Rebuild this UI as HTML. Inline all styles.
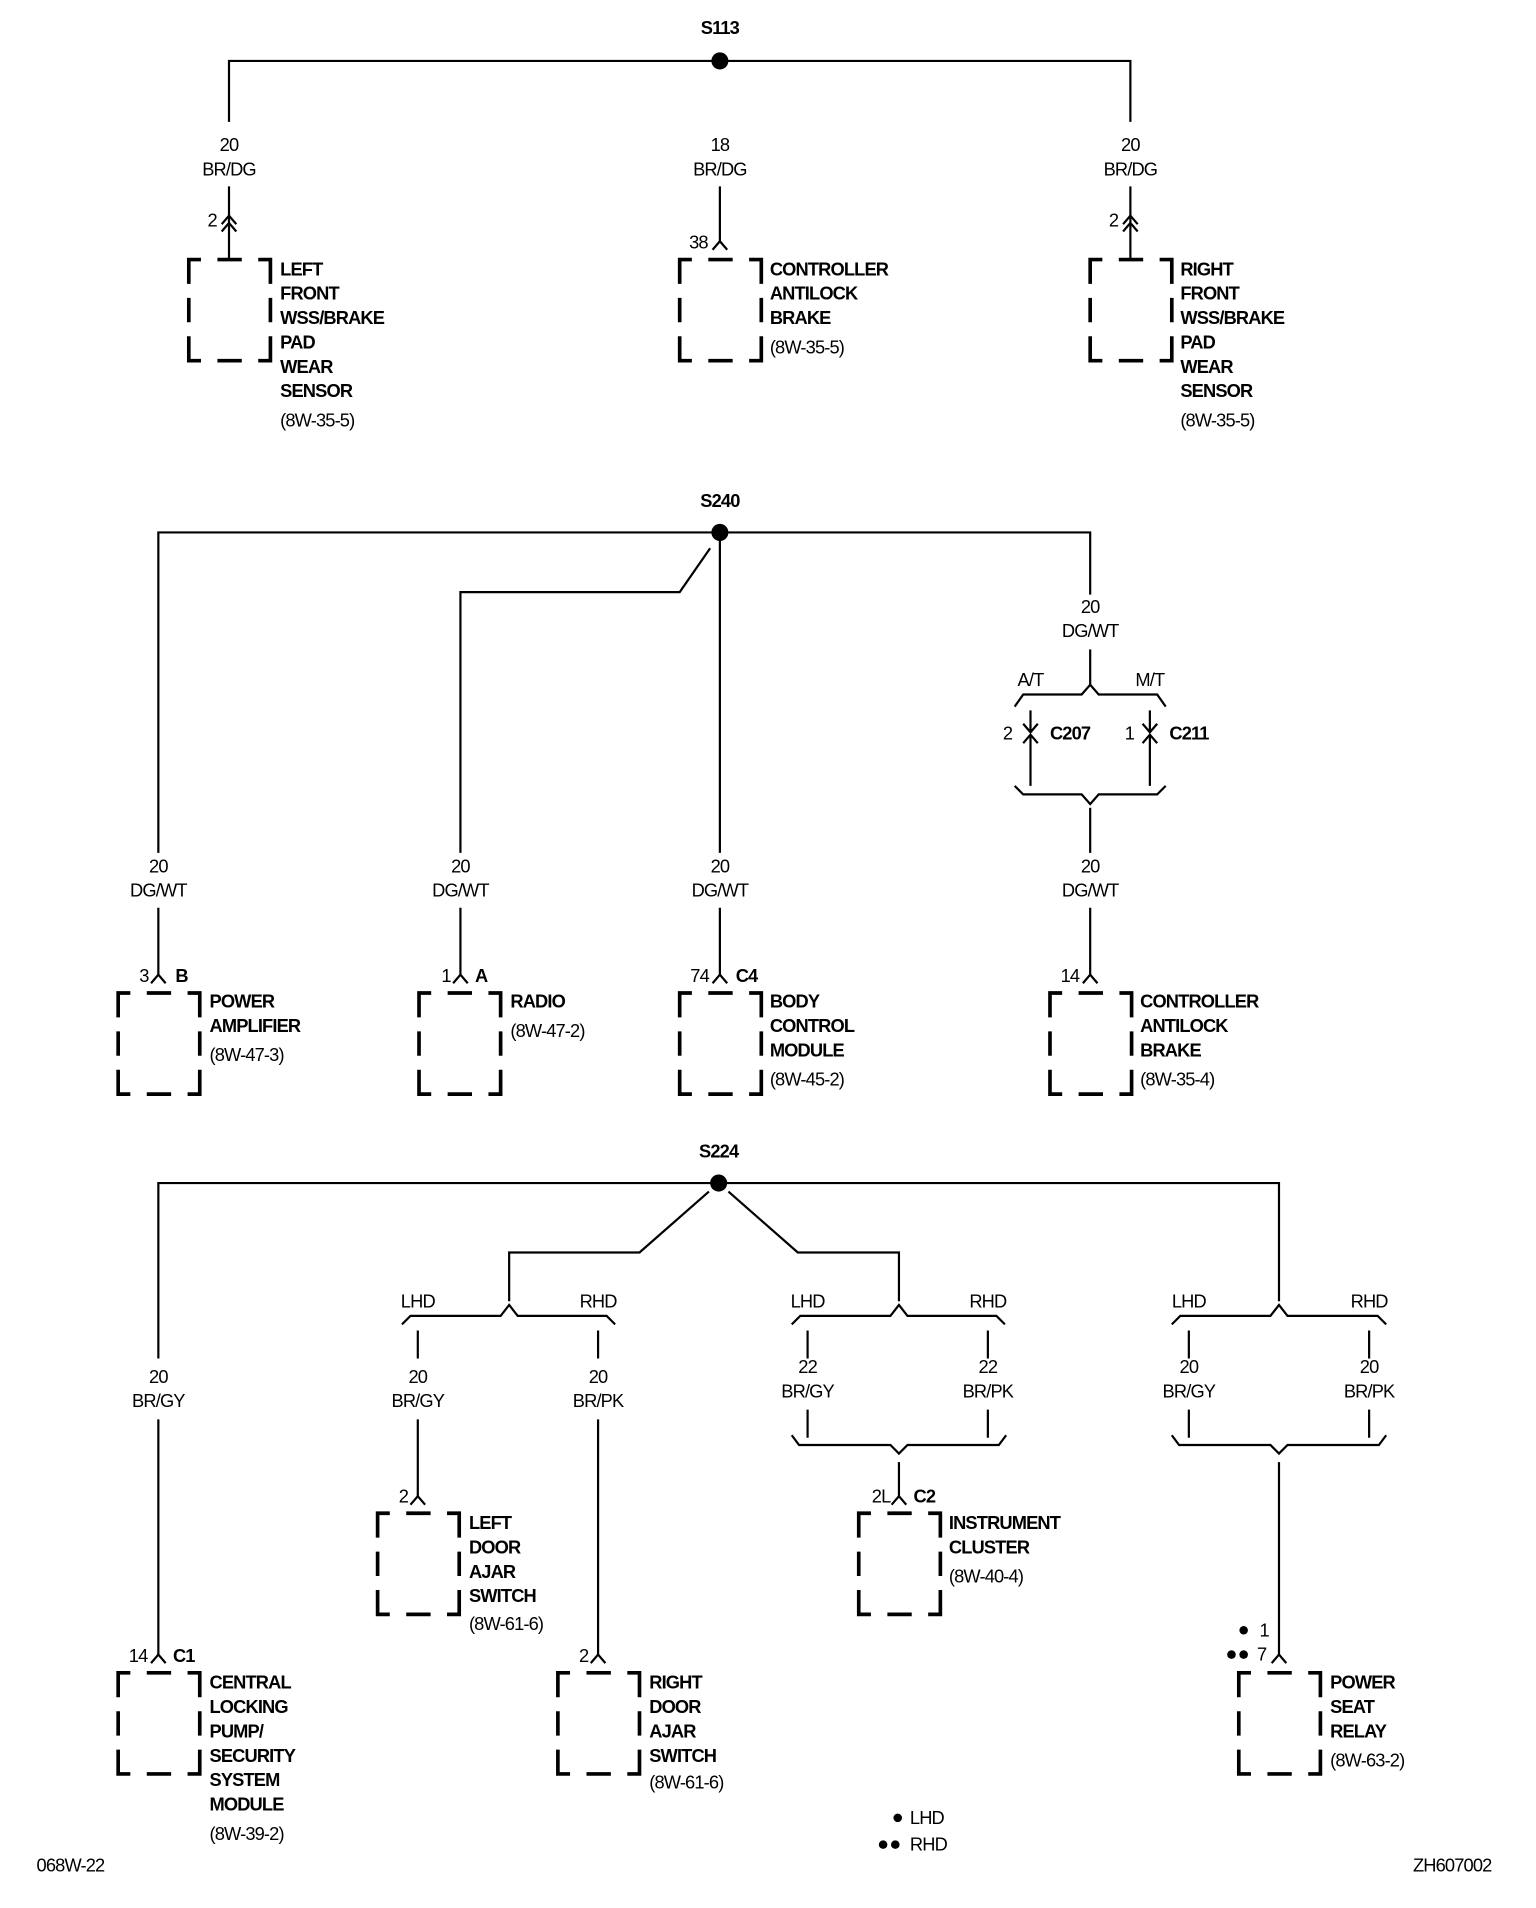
<!DOCTYPE html>
<html><head><meta charset="utf-8"><style>
html,body{margin:0;padding:0;background:#fff;}
svg{display:block;}
text{font-family:"Liberation Sans",sans-serif;font-size:15px;fill:#000;letter-spacing:-0.7px;}
.b{font-weight:bold;}
.c{text-anchor:middle;}
.e{text-anchor:end;}
</style></head><body>
<svg id="s" width="1536" height="1908" viewBox="0 0 1261 1566" preserveAspectRatio="none" xmlns="http://www.w3.org/2000/svg">
<g id="w" fill="none" stroke="#000" stroke-width="1.8">
<path d="M188 100V50H928V100"/>
<path d="M188 153V213M591 153V198M928 153V213"/>
<path d="M130 700V437H895V488"/>
<path d="M591 437V700"/>
<path d="M583 450L558 486H378V700"/>
<path d="M895 533V562"/>
<path d="M833 580L840 570H888L895 562L902 570H950L957 580"/>
<path d="M846 583V601M944 583V601M846 603V645M944 603V645"/>
<path d="M833 645L840 652H888L895 660L902 652H950L957 645"/>
<path d="M895 663V700"/>
<path d="M130 745V800M378 745V800M591 745V800M895 745V800"/>
<path d="M130 1115V971H1050V1068"/>
<path d="M582 978L525 1028H418V1068"/>
<path d="M598 978L655 1028H738V1068"/>
<path d="M330 1087L337 1080H411L418 1071L425 1080H498L505 1087"/>
<path d="M650 1087L657 1080H731L738 1071L745 1080H818L825 1087"/>
<path d="M962 1087L969 1080H1043L1050 1071L1057 1080H1131L1138 1087"/>
<path d="M343 1092V1115M491 1092V1115M663 1092V1115M811 1092V1115M976 1092V1115M1124 1092V1115"/>
<path d="M130 1165V1358M343 1165V1228M491 1165V1358"/>
<path d="M663 1157V1180M811 1157V1180M976 1157V1180M1124 1157V1180"/>
<path d="M650 1178L656 1186H731L738 1193L745 1186H820L826 1178"/>
<path d="M962 1178L968 1186H1043L1050 1193L1057 1186H1132L1138 1178"/>
<path d="M738 1200V1228M1050 1200V1358"/>
</g>
<g fill="#000">
<circle cx="591" cy="50" r="7"/><circle cx="591" cy="437" r="7"/><circle cx="590" cy="971" r="7"/>
<circle cx="1021" cy="1338" r="3.5"/><circle cx="1011" cy="1358" r="3.5"/><circle cx="1021" cy="1358" r="3.5"/>
<circle cx="737" cy="1492" r="3.5"/><circle cx="725" cy="1514" r="3.5"/><circle cx="735" cy="1514" r="3.5"/>
</g>
<g id="bx" fill="none" stroke="#000" stroke-width="3"></g>
<g id="ch" fill="none" stroke="#000" stroke-width="1.8"></g>

<text class="b c" x="591" y="28">S113</text>
<text class="c" x="188" y="124">20</text><text class="c" x="188" y="144">BR/DG</text>
<text class="c" x="591" y="124">18</text><text class="c" x="591" y="144">BR/DG</text>
<text class="c" x="928" y="124">20</text><text class="c" x="928" y="144">BR/DG</text>
<text class="e" x="178" y="186">2</text><text class="e" x="581" y="204">38</text><text class="e" x="918" y="186">2</text>
<text class="b" x="230" y="226">LEFT</text><text class="b" x="230" y="246">FRONT</text><text class="b" x="230" y="266">WSS/BRAKE</text><text class="b" x="230" y="286">PAD</text><text class="b" x="230" y="306">WEAR</text><text class="b" x="230" y="326">SENSOR</text><text x="230" y="350">(8W-35-5)</text>
<text class="b" x="632" y="226">CONTROLLER</text><text class="b" x="632" y="246">ANTILOCK</text><text class="b" x="632" y="266">BRAKE</text><text x="632" y="290">(8W-35-5)</text>
<text class="b" x="969" y="226">RIGHT</text><text class="b" x="969" y="246">FRONT</text><text class="b" x="969" y="266">WSS/BRAKE</text><text class="b" x="969" y="286">PAD</text><text class="b" x="969" y="306">WEAR</text><text class="b" x="969" y="326">SENSOR</text><text x="969" y="350">(8W-35-5)</text>

<text class="b c" x="591" y="416">S240</text>
<text class="c" x="895" y="503">20</text><text class="c" x="895" y="523">DG/WT</text>
<text class="c" x="846" y="563">A/T</text><text class="c" x="944" y="563">M/T</text>
<text class="e" x="831" y="607">2</text><text class="b" x="862" y="607">C207</text>
<text class="e" x="931" y="607">1</text><text class="b" x="960" y="607">C211</text>
<text class="c" x="130" y="716">20</text><text class="c" x="130" y="736">DG/WT</text>
<text class="c" x="378" y="716">20</text><text class="c" x="378" y="736">DG/WT</text>
<text class="c" x="591" y="716">20</text><text class="c" x="591" y="736">DG/WT</text>
<text class="c" x="895" y="716">20</text><text class="c" x="895" y="736">DG/WT</text>
<text class="e" x="122" y="806">3</text><text class="b" x="144" y="806">B</text>
<text class="e" x="370" y="806">1</text><text class="b" x="390" y="806">A</text>
<text class="e" x="582" y="806">74</text><text class="b" x="604" y="806">C4</text>
<text class="e" x="886" y="806">14</text>
<text class="b" x="172" y="827">POWER</text><text class="b" x="172" y="847">AMPLIFIER</text><text x="172" y="871">(8W-47-3)</text>
<text class="b" x="419" y="827">RADIO</text><text x="419" y="851">(8W-47-2)</text>
<text class="b" x="632" y="827">BODY</text><text class="b" x="632" y="847">CONTROL</text><text class="b" x="632" y="867">MODULE</text><text x="632" y="891">(8W-45-2)</text>
<text class="b" x="936" y="827">CONTROLLER</text><text class="b" x="936" y="847">ANTILOCK</text><text class="b" x="936" y="867">BRAKE</text><text x="936" y="891">(8W-35-4)</text>

<text class="b c" x="590" y="950">S224</text>
<text class="c" x="343" y="1073">LHD</text><text class="c" x="491" y="1073">RHD</text>
<text class="c" x="663" y="1073">LHD</text><text class="c" x="811" y="1073">RHD</text>
<text class="c" x="976" y="1073">LHD</text><text class="c" x="1124" y="1073">RHD</text>
<text class="c" x="130" y="1135">20</text><text class="c" x="130" y="1155">BR/GY</text>
<text class="c" x="343" y="1135">20</text><text class="c" x="343" y="1155">BR/GY</text>
<text class="c" x="491" y="1135">20</text><text class="c" x="491" y="1155">BR/PK</text>
<text class="c" x="663" y="1127">22</text><text class="c" x="663" y="1147">BR/GY</text>
<text class="c" x="811" y="1127">22</text><text class="c" x="811" y="1147">BR/PK</text>
<text class="c" x="976" y="1127">20</text><text class="c" x="976" y="1147">BR/GY</text>
<text class="c" x="1124" y="1127">20</text><text class="c" x="1124" y="1147">BR/PK</text>
<text class="e" x="335" y="1233">2</text>
<text class="e" x="731" y="1233">2L</text><text class="b" x="750" y="1233">C2</text>
<text class="e" x="121" y="1364">14</text><text class="b" x="142" y="1364">C1</text>
<text class="e" x="483" y="1364">2</text>
<text x="1034" y="1343">1</text><text x="1032" y="1363">7</text>
<text class="b" x="385" y="1255">LEFT</text><text class="b" x="385" y="1275">DOOR</text><text class="b" x="385" y="1295">AJAR</text><text class="b" x="385" y="1315">SWITCH</text><text x="385" y="1338">(8W-61-6)</text>
<text class="b" x="779" y="1255">INSTRUMENT</text><text class="b" x="779" y="1275">CLUSTER</text><text x="779" y="1299">(8W-40-4)</text>
<text class="b" x="172" y="1386">CENTRAL</text><text class="b" x="172" y="1406">LOCKING</text><text class="b" x="172" y="1426">PUMP/</text><text class="b" x="172" y="1446">SECURITY</text><text class="b" x="172" y="1466">SYSTEM</text><text class="b" x="172" y="1486">MODULE</text><text x="172" y="1510">(8W-39-2)</text>
<text class="b" x="533" y="1386">RIGHT</text><text class="b" x="533" y="1406">DOOR</text><text class="b" x="533" y="1426">AJAR</text><text class="b" x="533" y="1446">SWITCH</text><text x="533" y="1468">(8W-61-6)</text>
<text class="b" x="1092" y="1386">POWER</text><text class="b" x="1092" y="1406">SEAT</text><text class="b" x="1092" y="1426">RELAY</text><text x="1092" y="1450">(8W-63-2)</text>
<text x="747" y="1497">LHD</text><text x="747" y="1519">RHD</text>
<text x="30" y="1536">068W-22</text><text x="1160" y="1536">ZH607002</text>
</svg>
<script>
var NS="http://www.w3.org/2000/svg";
function P(g,d){var p=document.createElementNS(NS,"path");p.setAttribute("d",d);document.getElementById(g).appendChild(p);}
function box(x,y){var w=67,h=83,s=10,v=20,m=(x+x+w)/2,my=y+h/2;
P("bx","M"+x+" "+(y+v)+"V"+y+"H"+(x+s)+"M"+(x+w-s)+" "+y+"H"+(x+w)+"V"+(y+v)+
"M"+x+" "+(y+h-v)+"V"+(y+h)+"H"+(x+s)+"M"+(x+w-s)+" "+(y+h)+"H"+(x+w)+"V"+(y+h-v)+
"M"+(m-10)+" "+y+"H"+(m+10)+"M"+(m-10)+" "+(y+h)+"H"+(m+10)+
"M"+x+" "+(my-10)+"V"+(my+10)+"M"+(x+w)+" "+(my-10)+"V"+(my+10));}
[[155,213],[558,213],[895,213],[97,815],[344,815],[558,815],[862,815],[310,1242],[705,1242],[97,1373],[458,1373],[1017,1373]].forEach(function(b){box(b[0],b[1]);});
function up(x,y){P("ch","M"+(x-6)+" "+(y+7)+"L"+x+" "+y+"L"+(x+6)+" "+(y+7));}
function dn(x,y){P("ch","M"+(x-6)+" "+(y-7)+"L"+x+" "+y+"L"+(x+6)+" "+(y-7));}
up(188,177);up(188,183);up(928,177);up(928,183);
up(591,198);
up(130,800);up(378,800);up(591,800);up(895,800);
up(343,1228);up(738,1228);up(130,1358);up(491,1358);up(1050,1358);
dn(846,601);up(846,603);dn(944,601);up(944,603);
</script>
</body></html>
